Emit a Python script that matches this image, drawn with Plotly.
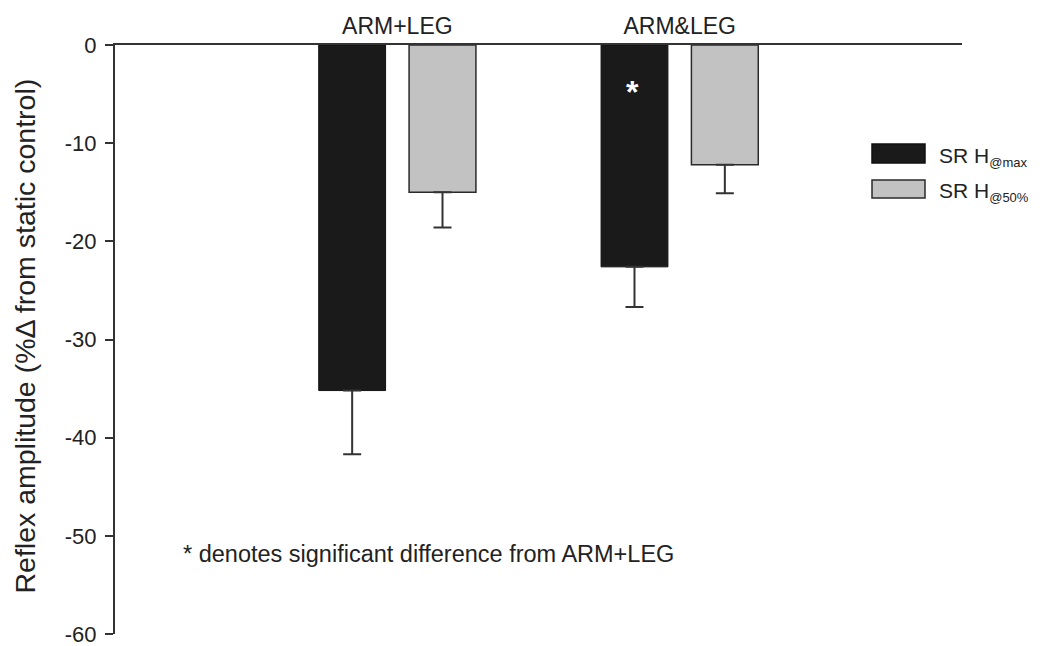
import plotly.graph_objects as go

# Conditions and reflex measures
conditions = ["ARM+LEG", "ARM&LEG"]
sr_h_max = [-35.2, -22.6]
sr_h_max_err = [6.5, 4.1]
sr_h_50 = [-15.0, -12.2]
sr_h_50_err = [3.6, 2.9]
y_ticks = [0, -10, -20, -30, -40, -50, -60]
y_tick_text = ["0", "-10", "-20", "-30", "-40", "-50", "-60"]

FONT = "Liberation Sans, Arial, sans-serif"
INK = "#222222"
BLACK = "#1a1a1a"
GRAY = "#c2c2c2"

fig = go.Figure()
fig.add_trace(go.Bar(
    x=conditions, y=sr_h_max, name="SR H@max",
    marker=dict(color=BLACK, line=dict(color="#111111", width=1)),
    error_y=dict(type="data", array=[0, 0], arrayminus=sr_h_max_err,
                 symmetric=False, color="#333333", thickness=2, width=9),
))
fig.add_trace(go.Bar(
    x=conditions, y=sr_h_50, name="SR H@50%",
    marker=dict(color=GRAY, line=dict(color="#2a2a2a", width=1.5)),
    error_y=dict(type="data", array=[0, 0], arrayminus=sr_h_50_err,
                 symmetric=False, color="#333333", thickness=2, width=9),
))

# plot area in pixels: left 115, right 962, top 45, bottom 634
L, R, T, B = 115, 962, 45, 634
W = R - L
H = B - T

def px_x(p):
    return (p - L) / W

def px_y(p):
    return 1 - (p - T) / H

shapes = []
annotations = []

# legend drawn by hand
legend_items = [(BLACK, "SR H<sub><span style='font-size:13px'>@max</span></sub>", 144, 163, "#111111"),
                (GRAY, "SR H<sub><span style='font-size:13px'>@50%</span></sub>", 180, 198, "#2a2a2a")]
for color, label, y0, y1, lc in legend_items:
    shapes.append(dict(type="rect", xref="paper", yref="paper",
                       x0=px_x(872), x1=px_x(925), y0=px_y(y1), y1=px_y(y0),
                       fillcolor=color, line=dict(color=lc, width=1.5)))
    annotations.append(dict(xref="paper", yref="paper", x=px_x(937),
                            y=px_y((y0 + y1) / 2 + 3), text=label,
                            showarrow=False, xanchor="left", yanchor="middle",
                            font=dict(family=FONT, size=21, color=INK)))

# significance marker inside the ARM&LEG SR H@max bar
annotations.append(dict(x="ARM&LEG", y=-4.8, xref="x", yref="y", text="<b>*</b>",
                        showarrow=False, xshift=-47,
                        font=dict(family=FONT, size=32, color="white")))

annotations.append(dict(xref="paper", yref="y", x=px_x(181), y=-51.8,
                        text="* denotes significant difference from ARM+LEG",
                        showarrow=False, xanchor="left", yanchor="middle",
                        font=dict(family=FONT, size=23.5, color=INK)))

# y-axis title
annotations.append(dict(xref="paper", yref="paper", x=px_x(25), y=0.505,
                        text="Reflex amplitude (%Δ from static control)",
                        textangle=-90, showarrow=False,
                        xanchor="center", yanchor="middle",
                        font=dict(family=FONT, size=28.5, color=INK)))

fig.update_layout(
    width=1040, height=646,
    margin=dict(l=L, r=1040 - R, t=T, b=646 - B, pad=0),
    paper_bgcolor="white", plot_bgcolor="white",
    barmode="group", bargap=0.36, bargroupgap=0.26,
    showlegend=False,
    font=dict(family=FONT, size=22, color=INK),
    shapes=shapes, annotations=annotations,
)
fig.update_xaxes(
    side="top", range=[-1, 2], showline=True, linecolor="#333333", linewidth=2,
    ticks="", showgrid=False, zeroline=False, automargin=False,
    tickfont=dict(family=FONT, size=23, color=INK), ticklabelstandoff=0,
)
fig.update_yaxes(
    range=[-60, 0], tickvals=y_ticks, ticktext=y_tick_text,
    ticks="outside", ticklen=8, tickwidth=1.5, tickcolor="#333333",
    showline=True, linecolor="#333333", linewidth=2, mirror=False,
    showgrid=False, zeroline=False, automargin=False,
    ticklabeloverflow="allow",
    tickfont=dict(family=FONT, size=22, color=INK), ticklabelstandoff=4,
)

fig.write_html("out.html")
